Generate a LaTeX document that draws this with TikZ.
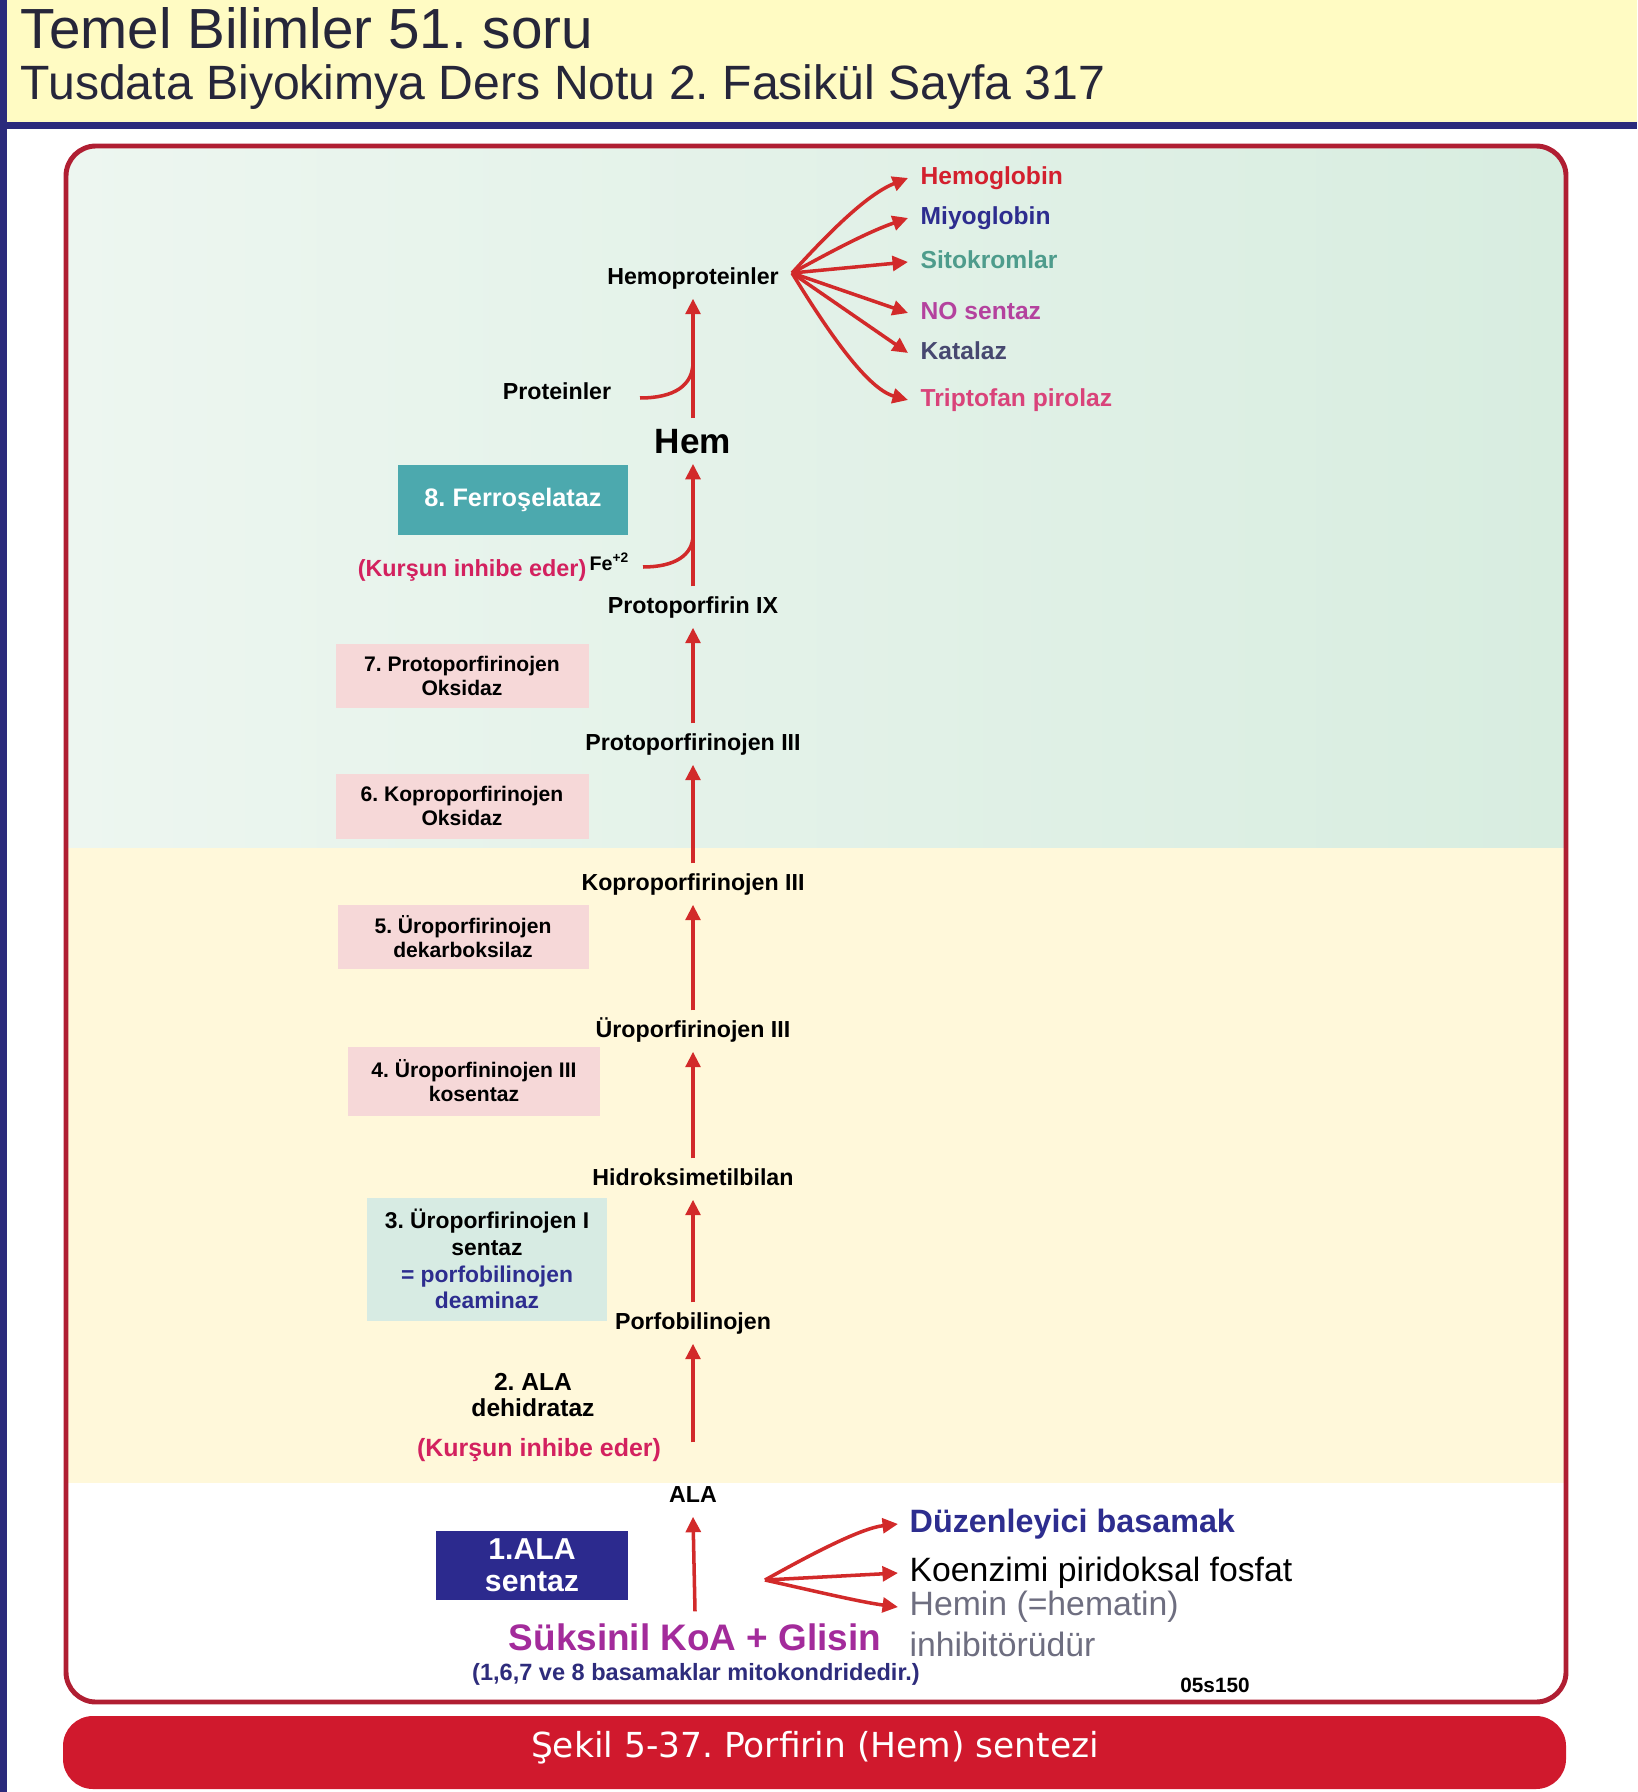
\documentclass[tikz,border=0pt]{standalone}
\usepackage{fontspec}
\setmainfont{Liberation Sans}
\newfontfamily\capfont{DejaVu Sans}
\usetikzlibrary{positioning, calc}
\usetikzlibrary{shapes,arrows.meta}
\frenchspacing

\definecolor{hdryellow}{HTML}{FFFBC3}
\definecolor{hdrnavy}{HTML}{2B2A7C}
\definecolor{hdrtext}{HTML}{26263A}
\definecolor{panelred}{HTML}{B01E32}
\definecolor{bannerred}{HTML}{D0192D}
\definecolor{mintl}{HTML}{EDF6F0}
\definecolor{mintr}{HTML}{D8EDE0}
\definecolor{cream}{HTML}{FFF8DA}
\definecolor{arrowred}{HTML}{D22A2A}
\definecolor{pinkbox}{HTML}{F6D8D8}
\definecolor{tealbox}{HTML}{4CA9AE}
\definecolor{palebox}{HTML}{D7EBE3}
\definecolor{navybox}{HTML}{2C2A8E}
\definecolor{kursun}{HTML}{D3215F}
\definecolor{hbred}{HTML}{D3202E}
\definecolor{mbnavy}{HTML}{2D2D8F}
\definecolor{sitoteal}{HTML}{4E9C8C}
\definecolor{nomag}{HTML}{B4429E}
\definecolor{katslate}{HTML}{474870}
\definecolor{trippink}{HTML}{D9437A}
\definecolor{suksinil}{HTML}{A32B9B}
\definecolor{mitonavy}{HTML}{2E2C7C}
\definecolor{hemingray}{HTML}{6E6E80}

\tikzstyle{lbl} = [font=\bfseries\fontsize{6.6}{7.6}\selectfont, text height=5pt,
    text depth=1.4pt, inner xsep=1pt, inner ysep=2.5pt]
\tikzstyle{enz} = [rectangle, fill=pinkbox, align=center, inner sep=0pt,
    font=\bfseries\fontsize{6}{6.8}\selectfont]
\tikzstyle{prod} = [anchor=west, inner xsep=1.2mm, inner ysep=0pt, text height=5.2pt,
    text depth=1.5pt, font=\bfseries\fontsize{7}{8}\selectfont]
\tikzstyle{note} = [anchor=west, inner xsep=1.1mm, inner ysep=0pt,
    font=\fontsize{9.6}{10.5}\selectfont]
\tikzstyle{line} = [draw=arrowred, line width=1pt, -{Triangle[length=4.4pt,width=4.2pt]}]
\tikzstyle{feed} = [draw=arrowred, line width=1pt]

\begin{document}
\begin{tikzpicture}[x=0.1mm, y=-0.1mm]
  \useasboundingbox (0,0) rectangle (1637,1792);
  % Header
  \fill[hdryellow] (0,0) rectangle (1637,122);
  \fill[hdrnavy] (0,122) rectangle (1637,129);
  \fill[hdrnavy] (0,0) rectangle (7,1792);
  \node[anchor=base west, inner sep=0pt, text=hdrtext, font=\fontsize{16.1}{18}\selectfont]
    (title) at (20,49) {Temel Bilimler 51. soru};
  \node[anchor=base west, inner sep=0pt, text=hdrtext, font=\fontsize{13.7}{16}\selectfont]
    (source) at (20,100) {Tusdata Biyokimya Ders Notu 2. Fasikül Sayfa 317};
  % Panel
  \begin{scope}
    \clip[rounded corners=3mm] (66,146) rectangle (1566,1702);
    \shade[left color=mintl, middle color=white, right color=mintr] (66,146) rectangle (1566,848);
    \fill[cream] (66,848) rectangle (1566,1483);
    \fill[white] (66,1483) rectangle (1566,1702);
  \end{scope}
  \draw[panelred, line width=1.4pt, rounded corners=3mm] (66,146) rectangle (1566,1702);
  % Banner
  \fill[bannerred, rounded corners=3mm] (63,1716) rectangle (1566,1789);
  \node[text=white, font=\capfont\fontsize{9.8}{11}\selectfont] (caption) at (815,1748)
    {Şekil 5-37. Porfirin (Hem) sentezi};

  % Place nodes
  \node[lbl] (hp) at (693,278) {Hemoproteinler};
  \node[font=\bfseries\fontsize{10}{12}\selectfont, text height=7.2pt, text depth=0pt,
    inner ysep=2.7pt] (hem) at (693,441) {Hem};
  \node[lbl] (ppix) at (693,607) {Protoporfirin IX};
  \node[lbl] (ppg) at (693,744) {Protoporfirinojen III};
  \node[lbl] (cpg) at (693,884) {Koproporfirinojen III};
  \node[lbl] (upg) at (693,1031) {Üroporfirinojen III};
  \node[lbl] (hmb) at (693,1179) {Hidroksimetilbilan};
  \node[lbl] (pbg) at (693,1323) {Porfobilinojen};
  \node[lbl] (ala) at (693,1496) {ALA};
  \node[text=suksinil, font=\bfseries\fontsize{10.5}{12}\selectfont, text height=7.6pt,
    text depth=0pt, inner ysep=3.3pt] (sk) at (695,1637) {Süksinil KoA + Glisin};
  \node[text=mitonavy, font=\bfseries\fontsize{6.7}{8}\selectfont, inner sep=0pt]
    (mito) at (696,1674) {(1,6,7 ve 8 basamaklar mitokondridedir.)};

  % Enzymes
  \node[enz, fill=tealbox, text=white, font=\bfseries\fontsize{7.2}{8}\selectfont,
    minimum width=23mm, minimum height=7mm] (e8) at (513,500) {8. Ferroşelataz};
  \node[enz, minimum width=25.3mm, minimum height=6.4mm] (e7) at (462,676)
    {7. Protoporfirinojen\\Oksidaz};
  \node[enz, minimum width=25.3mm, minimum height=6.5mm] (e6) at (462,806)
    {6. Koproporfirinojen\\Oksidaz};
  \node[enz, minimum width=25.1mm, minimum height=6.4mm] (e5) at (463,937)
    {5. Üroporfirinojen\\dekarboksilaz};
  \node[enz, minimum width=25.2mm, minimum height=6.9mm] (e4) at (474,1081)
    {4. Üroporfininojen III\\kosentaz};
  \node[enz, fill=palebox, font=\bfseries\fontsize{6.5}{7.6}\selectfont,
    minimum width=24mm, minimum height=12.3mm] (e3) at (487,1259)
    {3. Üroporfirinojen I\\sentaz\\\textcolor{mbnavy}{= porfobilinojen}\\\textcolor{mbnavy}{deaminaz}};
  \node[align=center, font=\bfseries\fontsize{7}{7.3}\selectfont] (e2) at (533,1395)
    {2. ALA\\dehidrataz};
  \node[text=kursun, font=\bfseries\fontsize{7.1}{8}\selectfont] (kur2) at (539,1450)
    {(Kurşun inhibe eder)};
  \node[enz, fill=navybox, text=white, font=\bfseries\fontsize{8.6}{9}\selectfont,
    minimum width=19.2mm, minimum height=6.9mm] (e1) at (532,1565) {1.ALA\\sentaz};

  % Side inputs
  \node[lbl] (prot) at (557,393) {Proteinler};
  \node[anchor=base west, inner sep=0pt, font=\bfseries\fontsize{5.6}{6}\selectfont]
    (fe) at (589,571) {Fe\textsuperscript{+2}};
  \node[anchor=base east, inner sep=0pt, text=kursun, font=\bfseries\fontsize{6.65}{8}\selectfont]
    (kur1) at (587,577) {(Kurşun inhibe eder)};
  \coordinate (protin) at (640,398);
  \coordinate (protjoin) at (693,362);
  \coordinate (fein) at (643,567);
  \coordinate (fejoin) at (693,535);
  \coordinate (hphub) at (792,273);
  \coordinate (skhub) at (765,1580);

  % Products
  \node[prod, text=hbred] (hb) at (908,178) {Hemoglobin};
  \node[prod, text=mbnavy] (mb) at (908,218) {Miyoglobin};
  \node[prod, text=sitoteal] (cyt) at (908,262) {Sitokromlar};
  \node[prod, text=nomag] (nos) at (908,313) {NO sentaz};
  \node[prod, text=katslate] (cat) at (908,353) {Katalaz};
  \node[prod, text=trippink] (tdo) at (908,400) {Triptofan pirolaz};

  % Notes on ALA sentaz
  \node[note, text=mbnavy, font=\bfseries\fontsize{9.2}{10}\selectfont] (reg) at (898,1524)
    {Düzenleyici basamak};
  \node[note] (plp) at (898,1573) {Koenzimi piridoksal fosfat};
  \node[note, text=hemingray] (hemin) at (898,1607) {Hemin (=hematin)};
  \node[note, text=hemingray, inner xsep=0pt] (inhib) at (909,1644) {inhibitörüdür};
  \node[font=\bfseries\fontsize{5.9}{7}\selectfont, inner sep=0pt] (code) at (1215,1685) {05s150};

  % Draw edges
  \path[line] (hem.north) -- (hp.south);
  \path[line] (ppix.north) -- (hem.south);
  \path[line] (ppg.north) -- (ppix.south);
  \path[line] (cpg.north) -- (ppg.south);
  \path[line] (upg.north) -- (cpg.south);
  \path[line] (hmb.north) -- (upg.south);
  \path[line] (pbg.north) -- (hmb.south);
  \path[line, shorten <=3.3mm] (ala.north) -- (pbg.south);
  \path[line] (sk.north) -- (ala.south);
  \path[feed] (protin) .. controls (675,398) and (693,385) .. (protjoin);
  \path[feed] (fein) .. controls (675,567) and (693,555) .. (fejoin);

  \path[line] (hphub) .. controls (832,229) and (868,194) .. (hb.west);
  \path[line] (hphub) .. controls (832,251) and (868,232) .. (mb.west);
  \path[line] (hphub) -- (cyt.west);
  \path[line] (hphub) -- (nos.west);
  \path[line] (hphub) -- (cat.west);
  \path[line] (hphub) .. controls (830,335) and (868,389) .. (tdo.west);
  \path[line] (skhub) .. controls (815,1552) and (862,1528) .. (reg.west);
  \path[line] (skhub) -- (plp.west);
  \path[line] (skhub) .. controls (810,1590) and (860,1602) .. (hemin.west);
\end{tikzpicture}
\end{document}
